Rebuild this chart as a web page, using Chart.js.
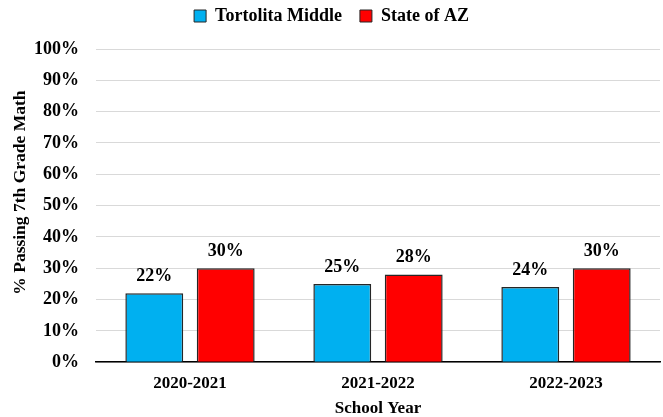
<!DOCTYPE html>
<html>
<head>
<meta charset="utf-8">
<script src="https://cdn.jsdelivr.net/npm/chart.js@4"></script>
<style>
  body { margin: 0; background: #fff; }
</style>
</head>
<body>
<canvas id="mathChart" width="663" height="417"></canvas>
<script>
"use strict";

const years = ["2020-2021", "2021-2022", "2022-2023"];
const tortolita = [22, 25, 24];
const stateAZ = [30, 28, 30];

const serif = "'Liberation Serif', 'Times New Roman', serif";

// draw the value above each bar
const barLabels = {
  id: "barLabels",
  afterDatasetsDraw(chart) {
    const ctx = chart.ctx;
    ctx.save();
    ctx.font = "bold 18px " + serif;
    ctx.fillStyle = "#000";
    ctx.textAlign = "center";
    ctx.textBaseline = "bottom";
    chart.data.datasets.forEach((ds, i) => {
      chart.getDatasetMeta(i).data.forEach((bar, j) => {
        ctx.fillText(ds.data[j] + "%", bar.x, bar.y - 8);
      });
    });
    ctx.restore();
  },
};

// y axis title, sits a bit above the plot middle like the original
const yTitle = {
  id: "yTitle",
  afterDraw(chart) {
    const ctx = chart.ctx;
    const area = chart.chartArea;
    ctx.save();
    ctx.font = "bold 17.5px " + serif;
    ctx.fillStyle = "#000";
    ctx.textAlign = "center";
    ctx.textBaseline = "middle";
    ctx.translate(20, (area.top + area.bottom) / 2 - 13);
    ctx.rotate(-Math.PI / 2);
    ctx.fillText("% Passing 7th Grade Math", 0, 0);
    ctx.restore();
  },
};

// room under the legend
const legendGap = {
  id: "legendGap",
  beforeInit(chart) {
    const fit = chart.legend.fit;
    chart.legend.fit = function () {
      fit.bind(chart.legend)();
      this.height += 14;
    };
  },
};

const chartData = {
  labels: years,
  datasets: [
    {
      label: "Tortolita Middle",
      data: tortolita,
      backgroundColor: "#00b0f0",
      borderColor: "#262626",
      borderWidth: 1.5,
      categoryPercentage: 0.76,
      barPercentage: 0.81,
    },
    {
      label: "State of AZ",
      data: stateAZ,
      backgroundColor: "#ff0000",
      borderColor: "#262626",
      borderWidth: 1.5,
      categoryPercentage: 0.76,
      barPercentage: 0.81,
    },
  ],
};

const config = {
  type: "bar",
  data: chartData,
  plugins: [barLabels, yTitle, legendGap],
  options: {
    responsive: false,
    animation: false,
    layout: { padding: { left: 0, right: 0, top: -11, bottom: -2 } },
    plugins: {
      legend: {
        position: "top",
        labels: {
          boxWidth: 12,
          boxHeight: 12,
          padding: 18,
          color: "#000",
          font: { family: serif, size: 18, weight: "bold" },
          generateLabels(chart) {
            const items = Chart.defaults.plugins.legend.labels.generateLabels(chart);
            items.forEach((it) => { it.lineWidth = 1; it.strokeStyle = "#262626"; });
            return items;
          },
        },
      },
      tooltip: { enabled: false },
    },
    scales: {
      x: {
        grid: { display: false },
        border: { color: "#000", width: 1.5 },
        ticks: {
          color: "#000",
          padding: 3,
          font: { family: serif, size: 17, weight: "bold" },
        },
        title: {
          display: true,
          text: "School Year",
          color: "#000",
          padding: { top: 2, bottom: 0 },
          font: { family: serif, size: 17, weight: "bold" },
        },
      },
      y: {
        min: 0,
        max: 100,
        border: { display: false },
        grid: { color: "#d9d9d9", drawTicks: false },
        ticks: {
          stepSize: 10,
          padding: 17,
          color: "#000",
          font: { family: serif, size: 18, weight: "bold" },
          callback: (v) => v + "%",
        },
        afterFit(scale) {
          scale.width = 96;
        },
      },
      yRight: {
        position: "right",
        grid: { display: false },
        border: { display: false },
        ticks: { display: false },
        afterFit(scale) {
          scale.width = 3;
        },
      },
    },
  },
};

const mathChart = new Chart(document.getElementById("mathChart"), config);
</script>
</body>
</html>
